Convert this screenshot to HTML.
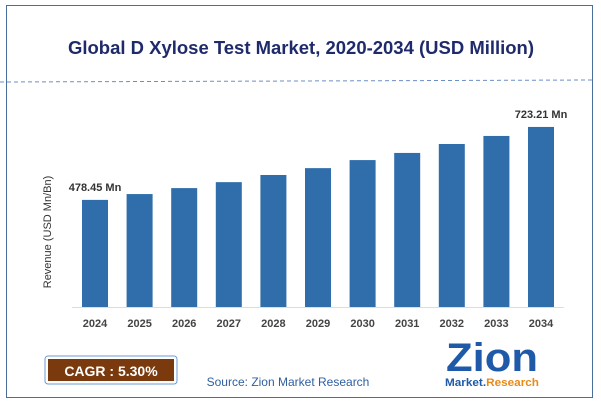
<!DOCTYPE html>
<html><head><meta charset="utf-8"><style>
body{margin:0;background:#fff;font-family:"Liberation Sans",sans-serif}
#c{position:relative;width:601px;height:401px;overflow:hidden}
</style></head><body>
<div id="c">
<svg width="601" height="401" id="svg">
<rect x="6.5" y="5.5" width="586" height="392" fill="#fff" stroke="#4a6f9c" stroke-width="1"/>
<text x="301" y="54" text-anchor="middle" font-size="18" font-weight="bold" fill="#1f2a6b" textLength="466" lengthAdjust="spacingAndGlyphs">Global D Xylose Test Market, 2020-2034 (USD Million)</text>
<line x1="0" y1="82" x2="592" y2="80" stroke="#6b8fc4" stroke-dasharray="4,3"/>
<text transform="translate(51,232) rotate(-90)" text-anchor="middle" font-size="11" fill="#333">Revenue (USD Mn/Bn)</text>
<line x1="72" y1="307.5" x2="564" y2="307.5" stroke="#ddd"/>
<g id="bars"></g>
<rect x="45" y="356" width="132" height="28" rx="3" fill="#fff" stroke="#6b9bd1"/>
<rect x="48" y="359" width="126" height="22" fill="#7b3a0e"/>
<text x="111" y="376" text-anchor="middle" font-size="14" font-weight="bold" fill="#fff">CAGR : 5.30%</text>
<text x="288" y="386" text-anchor="middle" font-size="12" fill="#2e5fa0">Source: Zion Market Research</text>
<text x="492" y="371" text-anchor="middle" font-size="40" font-weight="bold" fill="#1f5aa8" textLength="92" lengthAdjust="spacingAndGlyphs">Zion</text>
<text x="492" y="386" text-anchor="middle" font-size="11" font-weight="bold" fill="#1f5aa8" textLength="94" lengthAdjust="spacingAndGlyphs">Market.<tspan fill="#e88a1a">Research</tspan></text>
</svg>
</div>
<script>
const categories=["2024","2025","2026","2027","2028","2029","2030","2031","2032","2033","2034"];
const values=[478.45,498,518,538,562,585,612,636,666,693,723.21];
const labels=["478.45 Mn","","","","","","","","","","723.21 Mn"];
const g=document.getElementById('bars');
const NS="http://www.w3.org/2000/svg";
const x=i=>95+i*44.6;
const base=307,vMin=119,k=0.298;
const y=v=>base-(v-vMin)*k;
categories.forEach((c,i)=>{
 const r=document.createElementNS(NS,'rect');
 r.setAttribute('x',x(i)-13);r.setAttribute('y',y(values[i]));
 r.setAttribute('width',26);r.setAttribute('height',base-y(values[i]));
 r.setAttribute('fill','#2f6eab');
 
 
 g.appendChild(r);
 const t=document.createElementNS(NS,'text');
 t.setAttribute('x',x(i));t.setAttribute('y',327);t.setAttribute('text-anchor','middle');
 t.setAttribute('font-size','11');t.setAttribute('font-weight','bold');t.setAttribute('fill','#444');
 t.textContent=c;
 
 
 g.appendChild(t);
 if(labels[i]){
  const l=document.createElementNS(NS,'text');
  l.setAttribute('x',x(i));l.setAttribute('y',y(values[i])-9);l.setAttribute('text-anchor','middle');
  l.setAttribute('font-size','11');l.setAttribute('font-weight','bold');l.setAttribute('fill','#333');
  l.textContent=labels[i];
  
  
  g.appendChild(l);
 }
});
</script>
</body></html>
